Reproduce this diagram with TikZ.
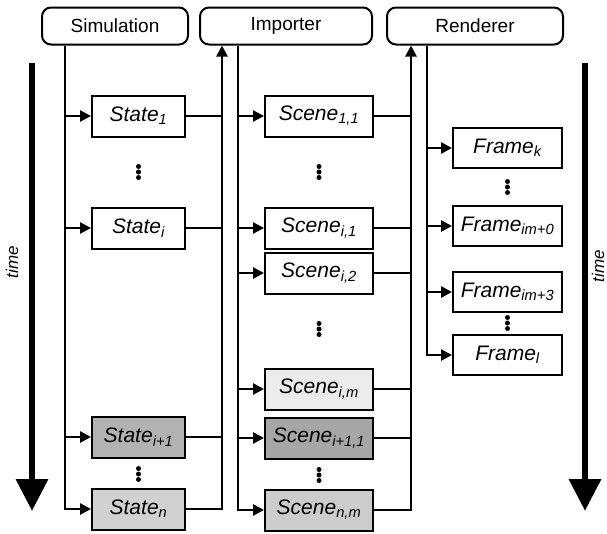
\documentclass[tikz,border=0pt]{standalone}
\usepackage{fontspec}
\setmainfont{Liberation Sans}
\usetikzlibrary{arrows.meta, calc}

\begin{document}
\begin{tikzpicture}[
  x=1pt, y=-1pt,
  stage/.style={draw, rounded corners=9pt, line width=2pt,
                minimum height=37pt, inner sep=0pt,
                font=\fontsize{19}{21}\selectfont},
  itembox/.style={draw, fill=white, line width=2pt, minimum height=41pt,
                  inner sep=0pt, font=\fontsize{21}{23}\selectfont\itshape},
  statebox/.style={itembox, minimum width=93pt},
  scenebox/.style={itembox, minimum width=108pt},
  framebox/.style={itembox, minimum width=109pt, minimum height=40pt},
  wire/.style={line width=2.6pt},
  feed/.style={wire, -{Triangle[length=11pt, width=11pt]}},
  timearrow/.style={line width=6.5pt, -{Triangle[length=32pt, width=31pt]}},
  lbl/.style={font=\fontsize{17}{19}\selectfont\itshape, rotate=90}
]
\useasboundingbox (0,0) rectangle (607,533);

\node[stage, minimum width=146pt] (sim) at (115,26) {Simulation};
\node[stage, minimum width=172pt] (imp) at (286,26) {Importer};
\node[stage, minimum width=176pt] (ren) at (475,26) {Renderer};

\node[statebox] (st1) at (138.5,116) {State\textsubscript{1}};
\node[statebox] (sti) at (138.5,228) {State\textsubscript{i}};
\node[statebox, fill=black!30] (stn1) at (138.5,437) {State\textsubscript{i+1}};
\node[statebox, fill=black!18] (stn) at (138.5,509) {State\textsubscript{n}};

\node[scenebox] (sc11) at (319,116) {Scene\textsubscript{1,1}};
\node[scenebox] (sci1) at (319,228) {Scene\textsubscript{i,1}};
\node[scenebox] (sci2) at (319,273) {Scene\textsubscript{i,2}};
\node[scenebox, fill=black!8] (scim) at (319,389) {Scene\textsubscript{i,m}};
\node[scenebox, fill=black!35] (scn11) at (319,438) {Scene\textsubscript{i+1,1}};
\node[scenebox, fill=black!20] (scnm) at (319,510) {Scene\textsubscript{n,m}};

\node[framebox] (fk) at (507.5,148) {Frame\textsubscript{k}};
\node[framebox] (f0) at (507.5,226) {Frame\textsubscript{im+0}};
\node[framebox] (f3) at (507.5,292) {Frame\textsubscript{im+3}};
\node[framebox] (fl) at (507.5,355) {Frame\textsubscript{l}};

% bus lines
\coordinate (simbus) at (65,0);
\coordinate (simret) at (222,0);
\coordinate (impbus) at (238,0);
\coordinate (impret) at (411,0);
\coordinate (renbus) at (427,0);

\draw[feed] (sim.south -| simbus) |- (stn.west);
\foreach \n in {st1,sti,stn1} \draw[feed] (\n.west -| simbus) -- (\n.west);
\draw[feed] (stn.east) -| (imp.south -| simret);
\foreach \n in {st1,sti,stn1} \draw[wire] (\n.east) -- (\n.east -| simret);

\draw[feed] (imp.south -| impbus) |- (scnm.west);
\foreach \n in {sc11,sci1,sci2,scim,scn11} \draw[feed] (\n.west -| impbus) -- (\n.west);
\draw[feed] (scnm.east) -| (ren.south -| impret);
\foreach \n in {sc11,sci1,sci2,scim,scn11} \draw[wire] (\n.east) -- (\n.east -| impret);

\draw[feed] (ren.south -| renbus) |- (fl.west);
\foreach \n in {fk,f0,f3} \draw[feed] (\n.west -| renbus) -- (\n.west);

% vertical dots
\foreach \x/\y in {138.5/172, 138.5/474, 319/172, 319/329, 319/475, 507.5/187, 507.5/323}
  \foreach \d in {-5.5,0,5.5} \fill (\x,\y+\d) circle (2.5pt);

% time axes
\coordinate (ltop) at (32,63);
\coordinate (lbot) at (32,511);
\coordinate (rtop) at (585,63);
\coordinate (rbot) at (585,511);
\draw[timearrow] (ltop) -- (lbot);
\draw[timearrow] (rtop) -- (rbot);
\node[lbl] (ltime) at (12,262) {time};
\node[lbl] (rtime) at (598,266) {time};

\end{tikzpicture}
\end{document}
